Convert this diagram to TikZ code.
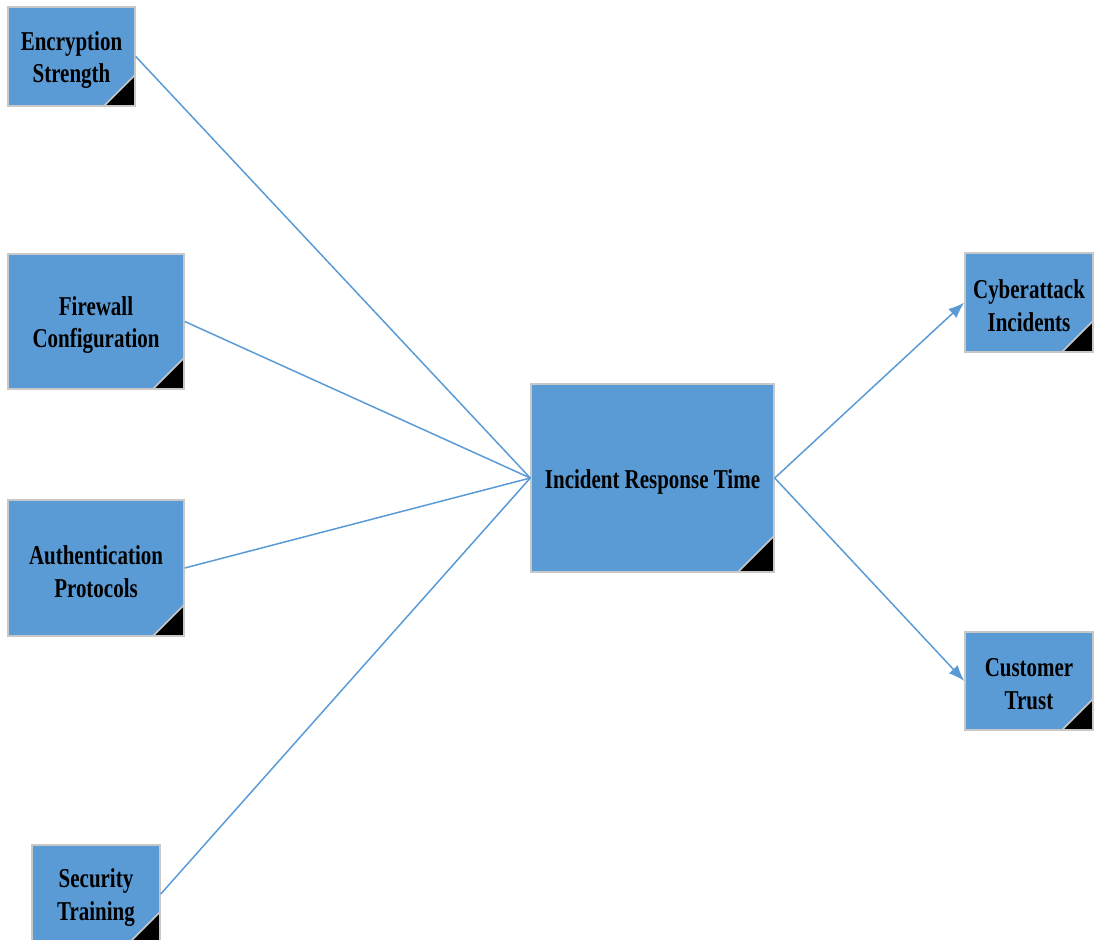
\documentclass[tikz,border=0pt]{standalone}
\usepackage{fontspec}
\newfontfamily\boxfont{Liberation Serif}[FakeStretch=0.77]
\usetikzlibrary{arrows.meta, positioning}
\definecolor{boxblue}{RGB}{91,155,213}
\definecolor{boxline}{RGB}{200,200,200}
\tikzset{
    box/.style={rectangle, draw=boxline, line width=0.03cm, fill=boxblue, inner sep=0pt,
        path picture={
            \fill[black] (path picture bounding box.south east) -- ++(-#1,0) -- ++(#1,#1) -- cycle;
            \draw[boxline, line width=0.03cm] (path picture bounding box.south east) ++(-#1,0) -- ++(#1,#1);
        }},
    box/.default=0.62cm,
    boxText/.style={align=center, inner sep=0pt, yshift=-0.07cm,
        font=\boxfont\bfseries\fontsize{15.5}{18.7}\selectfont},
    link/.style={draw=boxblue, line width=0.03cm},
    linkArrow/.style={link, -{Latex[length=0.32cm, width=0.24cm]}},
}
\newcommand{\drawLink}[3][link]{
    \draw[#1] (#2) -- (#3);
}
\begin{document}
\begin{tikzpicture}[x=0.02cm, y=-0.02cm]

        \path[use as bounding box, clip] (0,0) rectangle (1097,939);

        \node[box, minimum width=2.54cm, minimum height=1.98cm, label={[boxText]center:Encryption\\Strength}] (enc) at (71.5, 56.5) {};
        \node[box, minimum width=3.52cm, minimum height=2.70cm, label={[boxText]center:Firewall\\Configuration}] (fire) at (96, 321.5) {};
        \node[box, minimum width=3.52cm, minimum height=2.72cm, label={[boxText]center:Authentication\\Protocols}] (auth) at (96, 568) {};
        \node[box, minimum width=2.56cm, minimum height=1.96cm, label={[boxText]center:Security\\Training}] (sec) at (96, 894) {};
        \node[box=0.72cm, minimum width=4.86cm, minimum height=3.76cm, label={[boxText]center:Incident Response Time}] (irt) at (652.5, 478) {};
        \node[box, minimum width=2.56cm, minimum height=1.98cm, label={[boxText]center:Cyberattack\\Incidents}] (cyber) at (1029, 302.5) {};
        \node[box, minimum width=2.56cm, minimum height=1.96cm, label={[boxText]center:Customer\\Trust}] (trust) at (1029, 681) {};

        \drawLink{enc.east}{irt.west}
        \drawLink{fire.east}{irt.west}
        \drawLink{auth.east}{irt.west}
        \drawLink{sec.east}{irt.west}
        \drawLink[linkArrow]{irt.east}{cyber.west}
        \drawLink[linkArrow]{irt.east}{trust.west}

    \end{tikzpicture}
\end{document}
